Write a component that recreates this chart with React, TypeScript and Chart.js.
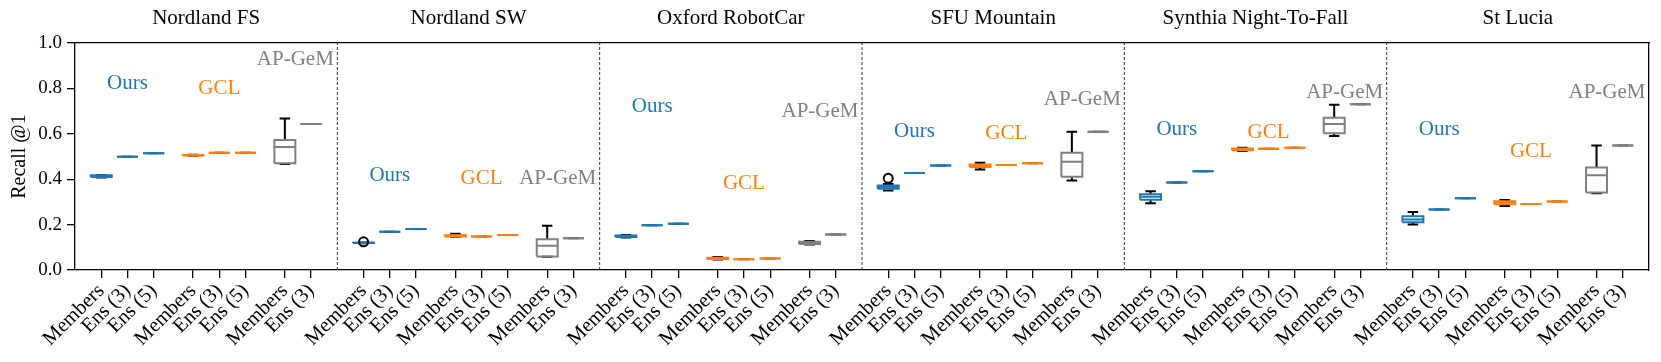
import React, { useEffect, useRef } from 'react';
import { Chart, registerables } from 'chart.js';

Chart.register(...registerables);

const panelTitles = ['Nordland FS', 'Nordland SW', 'Oxford RobotCar', 'SFU Mountain', 'Synthia Night-To-Fall', 'St Lucia'];
const tickLabels = ['Members', 'Ens (3)', 'Ens (5)', 'Members', 'Ens (3)', 'Ens (5)', 'Members', 'Ens (3)'];
const methodNames = ['Ours', 'GCL', 'AP-GeM'];

// box stats per panel: [whisker low, q1, median, q3, whisker high]
const oursMembers = [
  [0.408, 0.410, 0.413, 0.417, 0.419],
  [0.118, 0.119, 0.120, 0.120, 0.121],
  [0.143, 0.145, 0.148, 0.152, 0.154],
  [0.350, 0.358, 0.366, 0.372, 0.379],
  [0.294, 0.310, 0.323, 0.334, 0.347],
  [0.200, 0.210, 0.223, 0.237, 0.256],
];
const oursOutliers = [[], [0.124], [], [0.404], [], []];
const oursEns3 = [0.499, 0.169, 0.197, 0.427, 0.386, 0.267];
const oursEns5 = [0.514, 0.181, 0.204, 0.460, 0.435, 0.316];

const gclMembers = [
  [0.503, 0.504, 0.505, 0.507, 0.508],
  [0.146, 0.148, 0.151, 0.153, 0.160],
  [0.046, 0.048, 0.051, 0.054, 0.057],
  [0.443, 0.454, 0.460, 0.465, 0.473],
  [0.524, 0.528, 0.532, 0.535, 0.538],
  [0.282, 0.290, 0.297, 0.303, 0.308],
];
const gclEns3 = [0.517, 0.148, 0.047, 0.463, 0.534, 0.291];
const gclEns5 = [0.517, 0.154, 0.051, 0.470, 0.539, 0.302];

const apMembers = [
  [0.467, 0.470, 0.542, 0.573, 0.667],
  [0.058, 0.060, 0.107, 0.135, 0.195],
  [0.112, 0.115, 0.120, 0.124, 0.128],
  [0.394, 0.411, 0.477, 0.517, 0.609],
  [0.590, 0.602, 0.643, 0.671, 0.728],
  [0.338, 0.341, 0.417, 0.452, 0.549],
];
const apEns3 = [0.643, 0.140, 0.156, 0.609, 0.730, 0.549];

// annotation heights (data units) per panel
const oursLabelY = [0.822, 0.418, 0.722, 0.612, 0.617, 0.621];
const gclLabelY = [0.800, 0.404, 0.382, 0.602, 0.605, 0.521];
const apLabelY = [0.928, 0.404, 0.697, 0.753, 0.781, 0.783];

const BLUE = '#1f77b4';
const ORANGE = '#ff7f0e';
const GRAY = '#7f7f7f';
const FONT = 'Liberation Serif';

const PANEL = 10;
const slotOffsets = [1, 2, 3, 4.5, 5.5, 6.5, 8, 9];
const labelOffsets = [2, 5.5, 8.4];
const BOX_HALF = 0.4;
const CAP_HALF = 0.2;

type Entry = { pos: number; s: number[]; color: string; fliers: number[] };

function single(v: number) {
  return [v, v, v, v, v];
}

function buildEntries(): Entry[] {
  const out: Entry[] = [];
  panelTitles.forEach((_, p) => {
    const base = p * PANEL;
    const stats = [
      { s: oursMembers[p], color: BLUE, fliers: oursOutliers[p] },
      { s: single(oursEns3[p]), color: BLUE, fliers: [] },
      { s: single(oursEns5[p]), color: BLUE, fliers: [] },
      { s: gclMembers[p], color: ORANGE, fliers: [] },
      { s: single(gclEns3[p]), color: ORANGE, fliers: [] },
      { s: single(gclEns5[p]), color: ORANGE, fliers: [] },
      { s: apMembers[p], color: GRAY, fliers: [] },
      { s: single(apEns3[p]), color: GRAY, fliers: [] },
    ];
    stats.forEach((st, i) => out.push({ pos: base + slotOffsets[i], ...st }));
  });
  return out;
}

export default function App() {
  const ref = useRef<HTMLCanvasElement | null>(null);

  useEffect(() => {
    if (!ref.current) return;
    const entries = buildEntries();
    const colors = [BLUE, ORANGE, GRAY];

    const gap = (x: number) => ({ x, y: null as any });
    const boxData: Record<string, any[]> = {};
    const medData: Record<string, any[]> = {};
    colors.forEach((c) => { boxData[c] = []; medData[c] = []; });
    const whisk: any[] = [];
    const fliers: any[] = [];
    entries.forEach((e) => {
      const [lo, q1, med, q3, hi] = e.s;
      const x = e.pos;
      boxData[e.color].push(
        { x: x - BOX_HALF, y: q1 }, { x: x + BOX_HALF, y: q1 }, { x: x + BOX_HALF, y: q3 },
        { x: x - BOX_HALF, y: q3 }, { x: x - BOX_HALF, y: q1 }, gap(x)
      );
      medData[e.color].push({ x: x - BOX_HALF, y: med }, { x: x + BOX_HALF, y: med }, gap(x));
      whisk.push(
        { x, y: q1 }, { x, y: lo }, gap(x),
        { x, y: q3 }, { x, y: hi }, gap(x),
        { x: x - CAP_HALF, y: lo }, { x: x + CAP_HALF, y: lo }, gap(x),
        { x: x - CAP_HALF, y: hi }, { x: x + CAP_HALF, y: hi }, gap(x)
      );
      e.fliers.forEach((f) => fliers.push({ x, y: f }));
    });

    const dividers: any[] = [];
    for (let p = 1; p < panelTitles.length; p++) {
      dividers.push({ x: p * PANEL, y: 0 }, { x: p * PANEL, y: 1 }, gap(p * PANEL));
    }

    const lineDs = (data: any[], color: string, order: number, extra: any = {}) => ({
      type: 'scatter',
      data,
      showLine: true,
      spanGaps: false,
      pointRadius: 0,
      pointHoverRadius: 0,
      borderColor: color,
      backgroundColor: color,
      borderWidth: 2,
      borderCapStyle: 'butt',
      borderJoinStyle: 'miter',
      tension: 0,
      fill: false,
      order,
      xAxisID: 'x',
      yAxisID: 'y',
      ...extra,
    });

    const datasets: any[] = [
      lineDs(dividers, '#333333', 5, { borderWidth: 1, borderDash: [3, 2], clip: false }),
      lineDs(whisk, '#000000', 3),
      ...colors.map((c) => lineDs(boxData[c], c, 2)),
      ...colors.map((c) => lineDs(medData[c], c, 1)),
      {
        type: 'scatter',
        data: fliers,
        showLine: false,
        pointStyle: 'circle',
        pointRadius: 4.5,
        pointBorderWidth: 2,
        pointBorderColor: '#000000',
        pointBackgroundColor: 'rgba(0,0,0,0)',
        order: 0,
      },
    ];

    const annotate = {
      id: 'methodLabels',
      afterDatasetsDraw(chart: any) {
        const { ctx, scales } = chart;
        const ys = [oursLabelY, gclLabelY, apLabelY];
        const cs = [BLUE, ORANGE, GRAY];
        ctx.save();
        ctx.font = `21px "${FONT}"`;
        ctx.textAlign = 'center';
        ctx.textBaseline = 'middle';
        panelTitles.forEach((_, p) => {
          methodNames.forEach((name, m) => {
            ctx.fillStyle = cs[m];
            ctx.fillText(
              name,
              scales.x.getPixelForValue(p * PANEL + labelOffsets[m]),
              scales.y.getPixelForValue(ys[m][p])
            );
          });
        });
        ctx.restore();
      },
    };

    const tickPositions: number[] = [];
    panelTitles.forEach((_, p) => slotOffsets.forEach((o) => tickPositions.push(p * PANEL + o)));
    const panelCenters = panelTitles.map((_, p) => p * PANEL + PANEL / 2);
    const xMax = panelTitles.length * PANEL;

    const chart = new Chart(ref.current, {
      type: 'scatter',
      data: { datasets },
      plugins: [annotate],
      options: {
        responsive: false,
        animation: false,
        events: [],
        layout: { padding: { left: 0, right: 12, top: 0, bottom: 0 } },
        plugins: { legend: { display: false }, tooltip: { enabled: false } },
        scales: {
          x: {
            type: 'linear',
            position: 'bottom',
            min: 0,
            max: xMax,
            afterBuildTicks: (s: any) => { s.ticks = tickPositions.map((v) => ({ value: v })); },
            afterFit: (s: any) => { s.height = 92; },
            ticks: {
              autoSkip: false,
              minRotation: 45,
              maxRotation: 45,
              padding: 1,
              color: '#000',
              font: { family: FONT, size: 20.5 },
              callback: (_v: any, i: number) => tickLabels[i % tickLabels.length],
            },
            grid: { display: true, drawOnChartArea: false, drawTicks: true, tickLength: 8, color: '#000', lineWidth: 1.3 },
            border: { display: true, color: '#000', width: 1.3 },
          },
          xTop: {
            type: 'linear',
            position: 'top',
            min: 0,
            max: xMax,
            afterBuildTicks: (s: any) => { s.ticks = panelCenters.map((v) => ({ value: v })); },
            afterFit: (s: any) => { s.height = 43; },
            ticks: {
              autoSkip: false,
              maxRotation: 0,
              minRotation: 0,
              padding: 12,
              color: '#000',
              font: { family: FONT, size: 21 },
              callback: (_v: any, i: number) => panelTitles[i],
            },
            grid: { display: false, drawTicks: false },
            border: { display: true, color: '#000', width: 1.3 },
          },
          y: {
            type: 'linear',
            position: 'left',
            min: 0,
            max: 1,
            afterFit: (s: any) => { s.width = 75; },
            ticks: {
              stepSize: 0.2,
              padding: 5,
              color: '#000',
              font: { family: FONT, size: 19 },
              callback: (v: any) => Number(v).toFixed(1),
            },
            grid: { display: true, drawOnChartArea: false, drawTicks: true, tickLength: 8, color: '#000', lineWidth: 1.3 },
            border: { display: true, color: '#000', width: 1.3 },
            title: { display: true, text: 'Recall @1', color: '#000', font: { family: FONT, size: 20 }, padding: { top: 8, bottom: 0 } },
          },
          yRight: {
            type: 'linear',
            position: 'right',
            min: 0,
            max: 1,
            afterFit: (s: any) => { s.width = 0; },
            ticks: { display: false },
            grid: { display: false, drawTicks: false },
            border: { display: true, color: '#000', width: 1.3 },
          },
        },
      } as any,
    });

    return () => chart.destroy();
  }, []);

  return (
    <div style={{ position: 'absolute', left: 0, top: 0, width: 1661, height: 362, background: '#fff' }}>
      <canvas ref={ref} width={1661} height={362} style={{ display: 'block' }} />
    </div>
  );
}
